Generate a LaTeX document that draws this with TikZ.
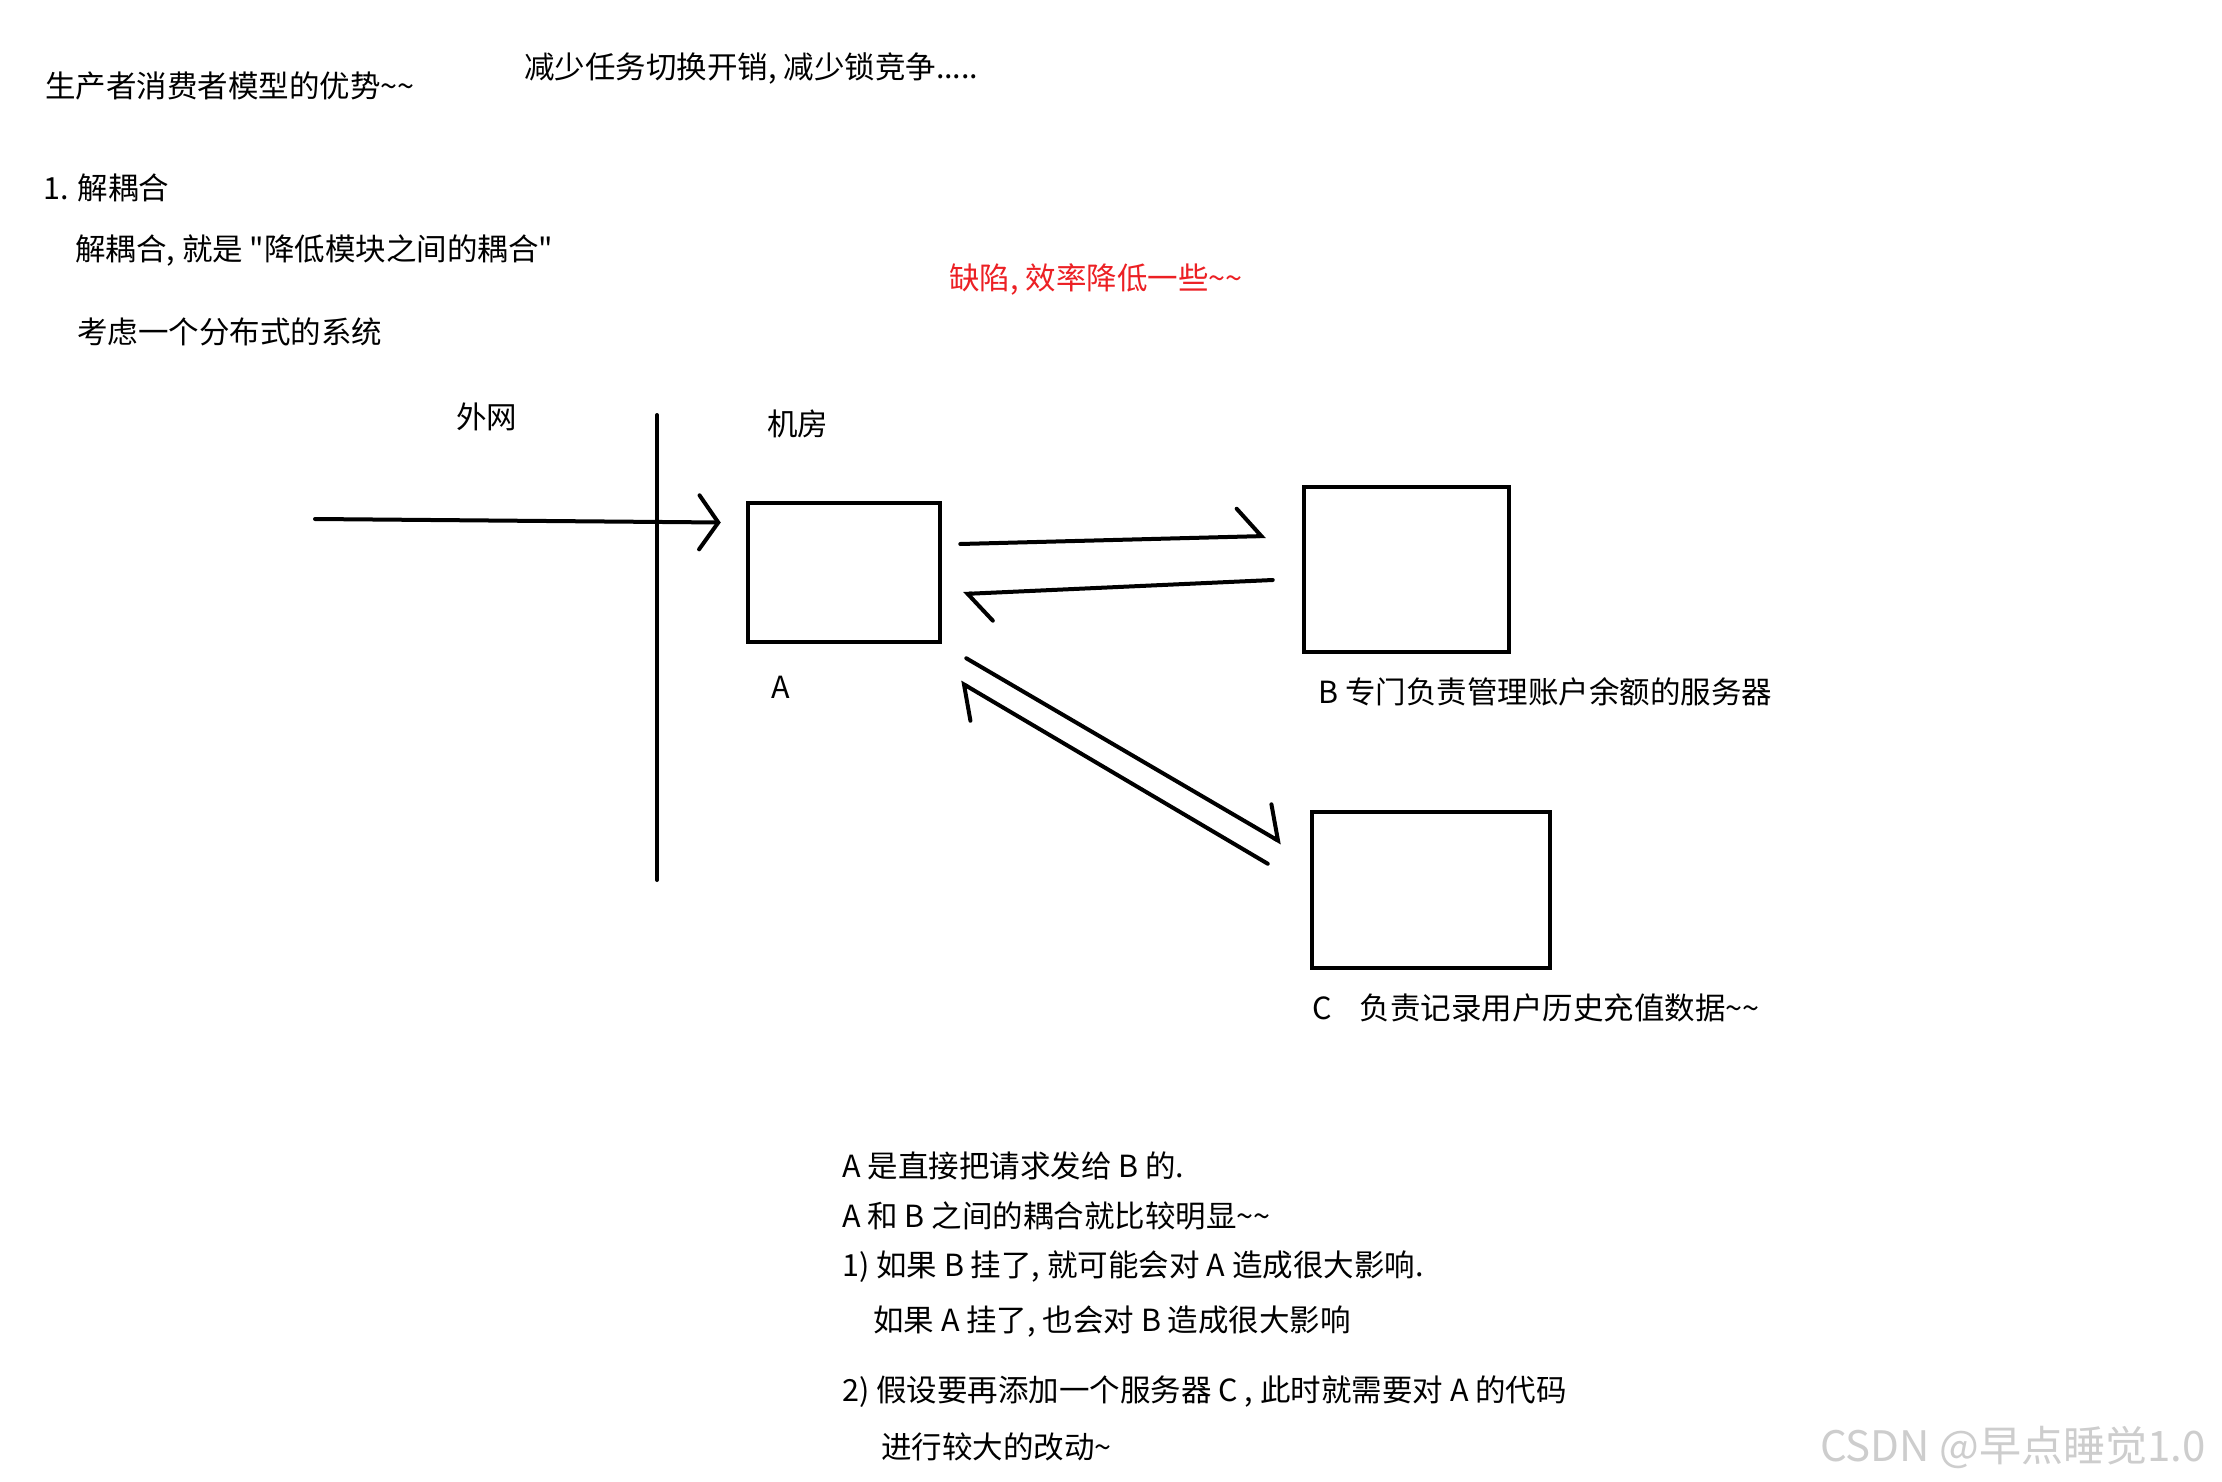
\documentclass[tikz,border=0pt]{standalone}
\usepackage{fontspec}
\newfontfamily\cjk{Noto Sans CJK SC}
\usetikzlibrary{arrows.meta,positioning}
\definecolor{warnred}{RGB}{236,32,36}
\definecolor{markgray}{RGB}{205,205,205}

\begin{document}
\begin{tikzpicture}[
  x=1pt, y=-1pt,
  txt/.style={anchor=west, inner sep=0pt, font=\cjk\fontsize{30.5}{36}\selectfont},
  srv/.style={draw, line width=4.5pt, inner sep=0pt},
  pen/.style={line width=4pt, line cap=round},
  harp/.style={pen, -{Straight Barb[harpoon, length=24pt, width=56pt, line cap=round]}},
  into/.style={pen, -{Straight Barb[length=19pt, width=54pt, line cap=round]}}
]
\fill[white] (0,0) rectangle (2222,1482);
\useasboundingbox (0,0) rectangle (2222,1482);

% heading notes
\node[txt] (title) at (45,86) {生产者消费者模型的优势\textasciitilde\textasciitilde};
\node[txt] (less) at (524,68) {减少任务切换开销, 减少锁竞争.....};
\node[txt] (decouple) at (43,188) {1. 解耦合};
\node[txt] (meaning) at (75,251) {解耦合, 就是 "降低模块之间的耦合"};
\node[txt, text=warnred] (flaw) at (949,279) {缺陷, 效率降低一些\textasciitilde\textasciitilde};
\node[txt] (system) at (77,332) {考虑一个分布式的系统};

% outside net / machine room
\node[txt] (wan) at (456,417) {外网};
\node[txt] (room) at (767,424) {机房};
\coordinate (wallT) at (657,415);
\coordinate (wallB) at (657,880);
\draw[pen] (wallT) -- (wallB);

% servers
\node[srv, minimum width=192pt, minimum height=139pt] (A) at (844,572.5) {};
\node[srv, minimum width=205pt, minimum height=165pt] (B) at (1406.5,569.5) {};
\node[srv, minimum width=238pt, minimum height=156pt] (C) at (1431,890) {};
\node[txt] (labA) at (771,687) {A};
\node[txt] (labB) at (1318,692) {B 专门负责管理账户余额的服务器};
\node[txt] (labC) at (1312,1008) {C\hspace{28pt}负责记录用户历史充值数据\textasciitilde\textasciitilde};

% requests
\coordinate (inet) at (315,519);
\draw[into] (inet) -- ([shift={(-25,-50)}]A.west);
\draw[harp] ([shift={(18,-28.5)}]A.east) -- ([shift={(-36,-33.5)}]B.west);
\draw[harp] ([shift={(-29,10.5)}]B.west) -- ([shift={(21,21.5)}]A.east);
\draw[harp] ([shift={(24,14)}]A.south east) -- ([shift={(-28,33)}]C.north west);
\draw[harp] ([shift={(-42,54)}]C.north west) -- ([shift={(18,38)}]A.south east);

% notes below
\node[txt] (n1) at (842,1166) {A 是直接把请求发给 B 的.};
\node[txt] (n2) at (842,1216) {A 和 B 之间的耦合就比较明显\textasciitilde\textasciitilde};
\node[txt] (n3) at (842,1267) {1) 如果 B 挂了, 就可能会对 A 造成很大影响.};
\node[txt] (n4) at (873,1322) {如果 A 挂了, 也会对 B 造成很大影响};
\node[txt] (n5) at (842,1392) {2) 假设要再添加一个服务器 C , 此时就需要对 A 的代码};
\node[txt] (n6) at (881,1447) {进行较大的改动\textasciitilde};
\node[txt, text=markgray, font=\cjk\fontsize{42}{46}\selectfont] (mark) at (1820,1447) {CSDN @早点睡觉1.0};
\end{tikzpicture}
\end{document}
